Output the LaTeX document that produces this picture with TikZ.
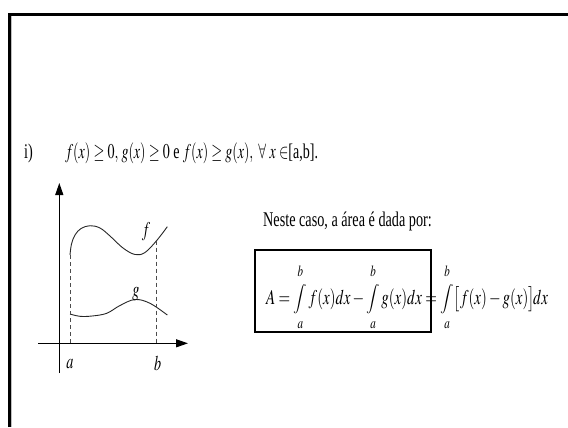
\documentclass[tikz,border=0pt]{standalone}
\usepackage{graphicx}
\usepackage{mathptmx}
\usepackage[no-math]{fontspec}
\setmainfont{Liberation Serif}
\usepackage{tikz}
\usetikzlibrary{arrows.meta}
\newcommand{\narrow}[2][0.68]{\scalebox{#1}[1]{#2}}
\newcommand{\intab}{\mathop{\vcenter{\hbox{\scalebox{1}[0.7]{$\displaystyle\int$}}}}\limits_{\raisebox{-3pt}{$\scriptstyle a$}}^{\raisebox{3pt}{$\scriptstyle b$}}}
\tikzset{
  axis/.style={line width=1.2bp, -{Triangle[width=8bp,length=12bp]}},
  curve/.style={line width=0.9bp, black!85},
  guide/.style={dash pattern=on 4bp off 3bp, black!70, line width=0.8bp},
  txt/.style={inner sep=0pt, font=\fontsize{21}{24}\selectfont},
}
\begin{document}
  \begin{tikzpicture}[x=1bp, y=-1bp]
    \useasboundingbox (0,0) rectangle (568,427);
    \draw[gray!50, line width=1bp] (11.8,427) -- (11.8,16);
    \draw[line width=2.4bp] (9.5,427) -- (9.5,14.3) -- (568,14.3);
    \node[txt, anchor=base west] (item) at (24,158) {\narrow{i)}};
    \node[txt, anchor=base west] (cond) at (65,158)
      {\narrow[0.67]{$f(x)\geq 0,\, g(x)\geq 0$ e $f(x)\geq g(x),\ \forall\ x\in$[a,b].}};
    \coordinate (O) at (59.3,343.3);
    \draw[axis] (38,343.3) -- (188,343.3);
    \draw[axis] (59.3,373) -- (59.3,183);
    \coordinate (fa) at (70,255);
    \coordinate (fb) at (156.7,240.5);
    \coordinate (xa) at (70,343.3);
    \coordinate (xb) at (156.7,343.3);
    \draw[curve] plot[smooth, tension=0.6] coordinates {(fa) (71.5,244) (75,235) (81,228.5) (90,225.7) (100,228) (110,236) (123,248) (135,254.5) (145,252.5) (fb) (167.3,226.7)};
    \draw[curve] plot[smooth, tension=0.6] coordinates {(70,314) (80,316.3) (92,316) (106.7,313.3) (120,305.5) (135,299.5) (150,303.3) (167.3,315)};
    \draw[guide] (fa) -- (xa);
    \draw[guide] (fb) -- (xb);
    \node[txt] (lf) at (146,232) {\narrow{$f$}};
    \node[txt] (lg) at (136,294) {\narrow{$g$}};
    \node[txt] (la) at (70,364) {\narrow{$a$}};
    \node[txt] (lb) at (157.7,363) {\narrow{$b$}};
    \node[txt, anchor=base west] (case) at (263,226) {\narrow{Neste caso, a área é dada por:}};
    \draw[line width=2bp] (255,250) rectangle (431,332);
    \node[txt, anchor=base west] (area) at (266,304)
      {\narrow[0.715]{$\displaystyle A=\intab f(x)dx-\intab g(x)dx=\intab\bigl[f(x)-g(x)\bigr]\!dx$}};
  \end{tikzpicture}
\end{document}
